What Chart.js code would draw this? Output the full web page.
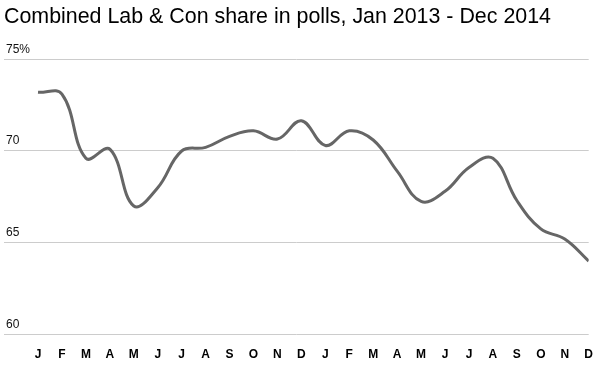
<!DOCTYPE html>
<html>
<head>
<meta charset="utf-8">
<script src="https://cdn.jsdelivr.net/npm/chart.js@4"></script>
<style>
  html, body { margin: 0; padding: 0; background: #fff; }
  #wrap { width: 600px; height: 365px; }
</style>
</head>
<body>
<div id="wrap"><canvas id="pollChart"></canvas></div>
<script>
// Monatsbuchstaben, Jan 2013 - Dez 2014
const monthLabels = ['J','F','M','A','M','J','J','A','S','O','N','D',
                     'J','F','M','A','M','J','J','A','S','O','N','D'];
// Lab + Con Anteil in %
const combinedShare = [73.2, 73.1, 69.6, 70.1, 67.0, 68.0, 70.0, 70.2, 70.8, 71.1, 70.65, 71.65,
                       70.3, 71.1, 70.6, 68.9, 67.25, 67.8, 69.1, 69.6, 67.3, 65.75, 65.2, 64.0];
const yTicks = [60, 65, 70, 75];

const font = "'Liberation Sans', Arial, Helvetica, sans-serif";

const pollChart = new Chart(document.getElementById('pollChart'), {
  type: 'line',
  data: {
    datasets: [{
      label: 'Lab + Con',
      data: combinedShare.map((v, i) => ({ x: i, y: v })),
      borderColor: '#666666',
      borderWidth: 3,
      pointRadius: 0,
      tension: 0.4,
      fill: false
    }]
  },
  options: {
    responsive: true,
    maintainAspectRatio: false,
    animation: false,
    layout: { padding: { left: 4, right: 11.3, top: 0, bottom: 3 } },
    plugins: {
      legend: { display: false },
      tooltip: { enabled: false },
      title: {
        display: true,
        text: 'Combined Lab & Con share in polls, Jan 2013 - Dec 2014',
        align: 'start',
        color: '#000',
        font: { family: font, size: 21.4, weight: 'normal' },
        padding: { top: 4, bottom: 29.6 }
      }
    },
    scales: {
      x: {
        type: 'linear',
        min: -1.42,
        max: 23,
        grid: { display: false, drawTicks: false },
        border: { display: false },
        afterBuildTicks: scale => { scale.ticks = monthLabels.map((m, i) => ({ value: i })); },
        afterFit: scale => {
          scale.height = 27.6;
          scale.paddingLeft = 0;
          scale.paddingRight = 0;
        },
        ticks: {
          autoSkip: false,
          maxRotation: 0,
          padding: 13,
          color: '#000',
          font: { family: font, size: 12, weight: 'bold' },
          callback: value => monthLabels[value]
        }
      },
      y: {
        min: 60,
        max: 75,
        grid: { color: '#cccccc', lineWidth: 1, drawTicks: false },
        border: { display: false },
        afterBuildTicks: scale => { scale.ticks = yTicks.map(v => ({ value: v })); },
        afterFit: scale => {
          scale.width = 0;
          scale.paddingTop = 0;
          scale.paddingBottom = 0;
        },
        ticks: {
          mirror: true,
          padding: 2,
          labelOffset: -10,
          color: '#111',
          font: { family: font, size: 12 },
          callback: v => v === 75 ? v + '%' : v
        }
      }
    }
  }
});
</script>
</body>
</html>
